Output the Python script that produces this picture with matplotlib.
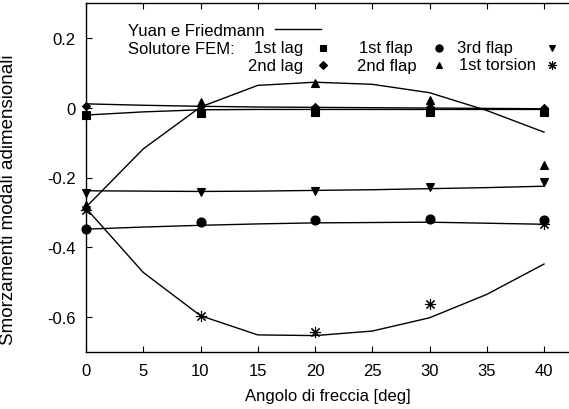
import matplotlib
matplotlib.use('Agg')
from matplotlib import pyplot as plt

plt.rcParams['font.family'] = ['Liberation Sans', 'DejaVu Sans']

# Yuan e Friedmann (theory), values at 0,5,...,40 deg
angle_th = [0, 5, 10, 15, 20, 25, 30, 35, 40]
th_1st_lag = [-0.021, -0.012, -0.006, -0.005, -0.005, -0.005, -0.005, -0.005, -0.005]
th_2nd_lag = [0.011, 0.007, 0.004, 0.002, 0.001, 0.0, -0.001, -0.002, -0.003]
th_2nd_flap = [-0.285, -0.118, 0.002, 0.064, 0.073, 0.067, 0.043, -0.008, -0.070]
th_3rd_flap = [-0.238, -0.239, -0.240, -0.239, -0.237, -0.235, -0.232, -0.229, -0.225]
th_1st_flap = [-0.348, -0.342, -0.337, -0.333, -0.330, -0.329, -0.328, -0.331, -0.334]
th_1st_torsion = [-0.288, -0.472, -0.596, -0.651, -0.653, -0.640, -0.602, -0.535, -0.448]

# Solutore FEM, values at 0,10,...,40 deg
angle_fem = [0, 10, 20, 30, 40]
fem_1st_lag = [-0.021, -0.015, -0.013, -0.013, -0.012]
fem_2nd_lag = [0.006, 0.004, 0.001, 0.001, -0.001]
fem_1st_flap = [-0.348, -0.328, -0.321, -0.318, -0.321]
fem_2nd_flap = [-0.279, 0.017, 0.071, 0.021, -0.164]
fem_3rd_flap = [-0.244, -0.242, -0.238, -0.227, -0.213]
fem_1st_torsion = [-0.292, -0.596, -0.642, -0.563, -0.333]

FS = 12

fig = plt.figure(figsize=(5.69, 4.10), dpi=100)
ax = fig.add_axes([86 / 569, 57 / 410, 483 / 569, 349 / 410])

for th in [th_1st_lag, th_2nd_lag, th_2nd_flap, th_3rd_flap, th_1st_flap, th_1st_torsion]:
    ax.plot(angle_th, th, color='black', lw=1.0, clip_on=False)

fem = [
    (fem_1st_lag, 's', 6),
    (fem_2nd_lag, 'D', 4.5),
    (fem_1st_flap, 'o', 6.5),
    (fem_2nd_flap, '^', 6),
    (fem_3rd_flap, 'v', 6),
    (fem_1st_torsion, (8, 2, 0), 8),
]
for vals, m, s in fem:
    ax.plot(angle_fem, vals, linestyle='none', marker=m, markersize=s,
            color='black', markeredgewidth=0.8, clip_on=False)

ax.set_xlim(0, 483 / 11.45)
ax.set_ylim(-0.7, 0.3)
ax.set_xticks([0, 5, 10, 15, 20, 25, 30, 35, 40])
ax.set_xticklabels(['0', '5', '10', '15', '20', '25', '30', '35', '40'])
ax.set_yticks([0.2, 0, -0.2, -0.4, -0.6])
ax.set_yticklabels(['0.2', '0', '-0.2', '-0.4', '-0.6'])
ax.tick_params(direction='in', length=4, width=0.8, labelsize=FS, top=True)
ax.tick_params(axis='x', pad=8)
ax.tick_params(axis='y', pad=7.5)
ax.spines['right'].set_visible(False)
for sp in ['left', 'bottom', 'top']:
    ax.spines[sp].set_linewidth(1.0)

ax.set_xlabel('Angolo di freccia [deg]', fontsize=FS, labelpad=7)
ax.set_ylabel('Smorzamenti modali adimensionali', fontsize=13.5)
ax.yaxis.set_label_coords(-69 / 483, 0.44)

# key
tr = fig.transFigure
W, H = 569, 410
def fx(x):
    return x / W
def fy(y):
    return 1 - y / H

fig.text(fx(128), fy(31), 'Yuan e Friedmann', fontsize=FS, va='center')
fig.add_artist(plt.Line2D([fx(275), fx(321)], [fy(30), fy(30)], color='black', lw=1.0, transform=tr))
fig.text(fx(128), fy(49), 'Solutore FEM:', fontsize=FS, va='center')

labels = [
    ('1st lag', 303, 49, 's', 6, 323),
    ('2nd lag', 303, 66, 'D', 4.5, 323),
    ('1st flap', 413, 49, 'o', 6.5, 439),
    ('2nd flap', 417, 66, '^', 6, 439),
    ('3rd flap', 513, 49, 'v', 6, 552),
    ('1st torsion', 536, 66, (8, 2, 0), 8, 552),
]
for txt, xr, y, m, s, xm in labels:
    fig.text(fx(xr), fy(y), txt, fontsize=FS, va='center', ha='right')
    fig.add_artist(plt.Line2D([fx(xm)], [fy(y)], marker=m, markersize=s * 0.8,
                              color='black', linestyle='none', markeredgewidth=0.8,
                              transform=tr))

fig.savefig('out.png', dpi=100)
